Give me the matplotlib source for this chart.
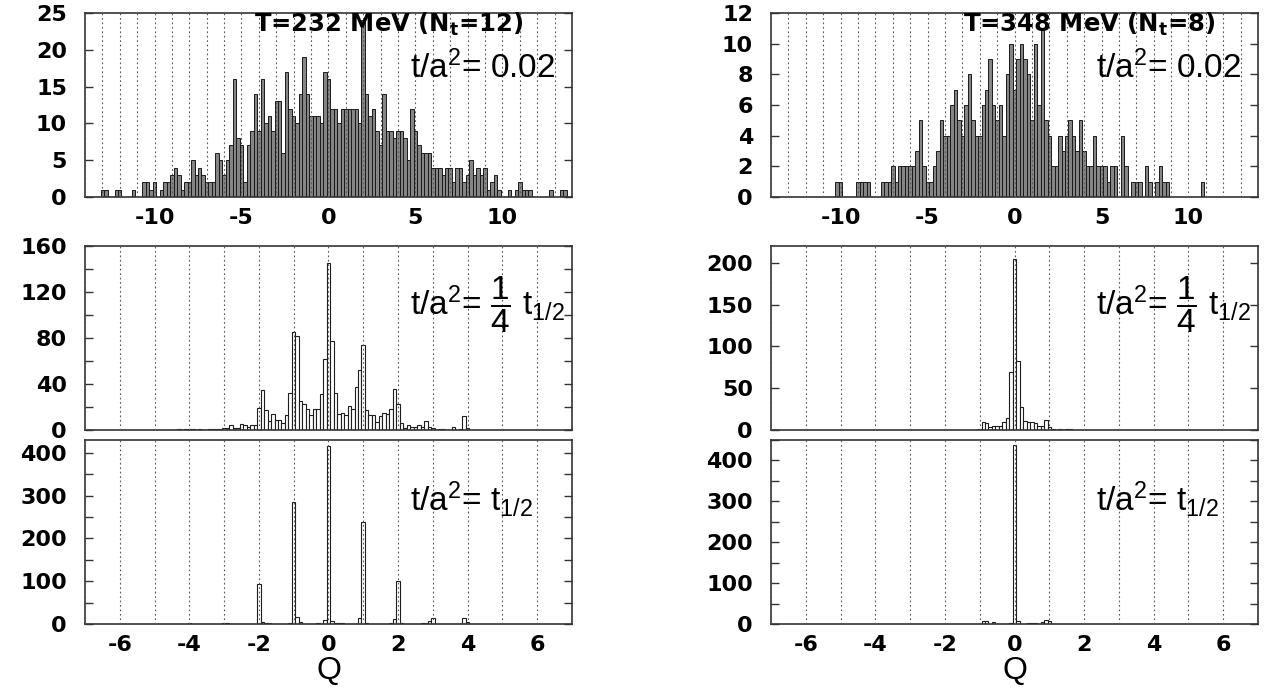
import numpy as np
import matplotlib
matplotlib.use("Agg")
import matplotlib.pyplot as plt
from matplotlib.ticker import MultipleLocator

# ---- histogram counts ----
# t/a^2 = 0.02, bins of 0.2 in Q
top_left_start = -13.0
n_top_left = [
    1, 1, 0, 0, 1,  1, 0, 0, 0, 1,  0, 0, 2, 2, 1,  2, 0, 1, 2, 2,
    3, 4, 3, 1, 2,  2, 5, 3, 4, 3,  2, 2, 2, 6, 5,  3, 5, 7, 16, 8,
    7, 2, 7, 9, 14,  9, 16, 10, 11, 9,  13, 13, 6, 17, 12,  11, 10, 14, 19, 14,
    11, 11, 11, 10, 17,  16, 12, 12, 10, 12,  12, 12, 12, 12, 10,  24, 14, 11, 12, 9,
    7, 14, 9, 9, 8,  9, 9, 8, 5, 12,  9, 7, 6, 6, 6,  4, 4, 4, 3, 4,
    4, 2, 4, 4, 2,  3, 5, 3, 4, 3,  4, 1, 2, 3, 1,  0, 0, 1, 0, 1,
    2, 1, 1, 1, 0,  0, 0, 0, 0, 1,  0, 0, 1, 1,
]
top_right_start = -10.2
n_top_right = [
    1, 1, 0, 0, 0, 0, 1, 1, 1, 1,
    0, 0, 0, 1, 1, 1, 2, 1, 2, 2,
    2, 2, 2, 3, 5, 2, 1, 1, 2, 3,
    5, 4, 4, 6, 7, 5, 4, 6, 8, 5,
    4, 4, 6, 7, 9, 6, 5, 6, 4, 8,
    10, 7, 9, 10, 9, 8, 5, 10, 6, 11,
    5, 4, 2, 2, 4, 3, 4, 5, 4, 3,
    5, 3, 2, 2, 4, 2, 2, 2, 1, 2,
    2, 0, 4, 2, 0, 1, 1, 1, 0, 2,
    1, 0, 1, 2, 1, 1, 0, 0, 0, 0,
    0, 0, 0, 0, 0, 1,
]

# t/a^2 = t_{1/2}/4 and t_{1/2}, bins of 0.1 in Q
mid_left_start = -4.4
n_mid_left = [
    0, 1, 0, 1, 1, 1, 0, 1, 0, 0,
    1, 1, 1, 1, 2, 2, 4, 2, 2, 5,
    4, 3, 4, 4, 19, 35, 17, 8, 14, 9,
    9, 6, 13, 32, 85, 82, 25, 23, 18, 13,
    18, 18, 31, 62, 145, 77, 32, 14, 15, 13,
    21, 18, 37, 52, 74, 17, 13, 13, 7, 12,
    15, 14, 18, 36, 23, 6, 2, 4, 3, 3,
    4, 3, 8, 3, 2, 0, 1, 1, 0, 0,
    3, 0, 1, 12, 2,
]
bot_left_start = -4.0
n_bot_left = [
    2, 1, 0, 0, 0, 0, 0, 0, 0, 0,
    3, 2, 1, 1, 0, 0, 0, 0, 0, 0,
    94, 4, 3, 2, 1, 0, 0, 0, 1, 3,
    285, 16, 5, 1, 0, 0, 1, 2, 1, 10,
    417, 7, 2, 2, 2, 1, 0, 0, 1, 13,
    239, 2, 1, 1, 0, 0, 0, 1, 2, 12,
    100, 2, 0, 0, 0, 0, 0, 2, 3, 6,
    14, 0, 0, 0, 0, 0, 0, 0, 1, 15,
    4,
]
mid_right_start = -1.0
n_mid_right = [1, 10, 8, 4, 5, 5, 5, 9, 14, 69, 205, 82, 27, 11, 9, 9, 8, 5, 5, 12,
               4, 1, 0, 1, 0, 1, 1]
bot_right_start = -1.0
n_bot_right = [0, 7, 7, 0, 4, 1, 0, 0, 0, 2, 437, 7, 0, 0, 3, 3, 3, 0, 4, 10, 8]

plt.rcParams['axes.unicode_minus'] = False
plt.rcParams['mathtext.default'] = 'regular'
plt.rcParams['font.family'] = 'DejaVu Sans'


def bin_centres(start, step, counts):
    return np.round(start + step * np.arange(len(counts)), 2)


def style_axes(ax, xlim, ylim, xmajor, xgrid, ymajor, yminor, xlabels):
    ax.set_xlim(*xlim)
    ax.set_ylim(*ylim)
    ax.xaxis.set_major_locator(MultipleLocator(xmajor))
    ax.xaxis.set_minor_locator(MultipleLocator(xgrid))
    ax.yaxis.set_major_locator(MultipleLocator(ymajor))
    if yminor:
        ax.yaxis.set_minor_locator(MultipleLocator(yminor))
    ax.set_axisbelow(False)
    ax.grid(True, axis='x', which='both', linestyle=(0, (1.5, 2.5)),
            color='#555555', linewidth=0.8)
    ax.tick_params(axis='both', which='both', direction='in', top=True, right=True,
                   color='#333333')
    ax.tick_params(axis='y', which='major', length=6, width=1, labelsize=16, pad=13)
    ax.tick_params(axis='y', which='minor', length=6, width=1)
    ax.tick_params(axis='x', which='major', length=0, labelsize=16, pad=8)
    ax.tick_params(axis='x', which='minor', length=0)
    ax.tick_params(labelbottom=xlabels)
    for lbl in ax.get_xticklabels() + ax.get_yticklabels():
        lbl.set_fontweight('bold')
    for sp in ax.spines.values():
        sp.set_color('#333333')
        sp.set_linewidth(1.2)


def flow_label(ax, text, y=0.70):
    ax.text(0.667, y, text, transform=ax.transAxes, fontsize=24,
            family='Liberation Sans', ha='left', va='center')


fig = plt.figure(figsize=(12.64, 6.90), dpi=100)
col_x = [0.0672, 0.6100]
row_y = [0.7145, 0.3768, 0.0957]
w, h = 0.3853, 0.2667

# top row: early flow time
for col, start, counts, ylim, ymaj, title, tx in [
    (0, top_left_start, n_top_left, (0, 25), 5, 'T=232 MeV (N$_t$=12)', 0.624),
    (1, top_right_start, n_top_right, (0, 12), 2, 'T=348 MeV (N$_t$=8)', 0.653),
]:
    ax = fig.add_axes([col_x[col], row_y[0], w, h])
    ax.bar(bin_centres(start, 0.2, counts), counts, width=0.2,
           facecolor='#858585', edgecolor='#1a1a1a', linewidth=0.7)
    style_axes(ax, (-14, 14), ylim, 5, 1, ymaj, None, True)
    ax.text(tx, 0.895, title, transform=ax.transAxes, ha='center', va='baseline',
            fontsize=17.5, fontweight='bold', family='DejaVu Sans')
    flow_label(ax, r't/a$^2$= 0.02')

# middle row: t/a^2 = t_{1/2}/4
for col, start, counts, ylim, ymaj, ymin in [
    (0, mid_left_start, n_mid_left, (0, 160), 40, 20),
    (1, mid_right_start, n_mid_right, (0, 220), 50, None),
]:
    ax = fig.add_axes([col_x[col], row_y[1], w, h])
    ax.bar(bin_centres(start, 0.1, counts), counts, width=0.1,
           facecolor='white', edgecolor='#1e1e1e', linewidth=0.8)
    style_axes(ax, (-7, 7), ylim, 2, 1, ymaj, ymin, False)
    flow_label(ax, r't/a$^2$= $\dfrac{1}{4}$ t$_{1/2}$', y=0.68)

# bottom row: t/a^2 = t_{1/2}
for col, start, counts, ylim in [
    (0, bot_left_start, n_bot_left, (0, 430)),
    (1, bot_right_start, n_bot_right, (0, 450)),
]:
    ax = fig.add_axes([col_x[col], row_y[2], w, h])
    ax.bar(bin_centres(start, 0.1, counts), counts, width=0.1,
           facecolor='white', edgecolor='#1e1e1e', linewidth=0.8)
    style_axes(ax, (-7, 7), ylim, 2, 1, 100, 50, True)
    flow_label(ax, r't/a$^2$= t$_{1/2}$', y=0.68)
    ax.set_xlabel('Q', fontsize=23, family='Liberation Sans', labelpad=1)

fig.savefig('out.png', dpi=100)
